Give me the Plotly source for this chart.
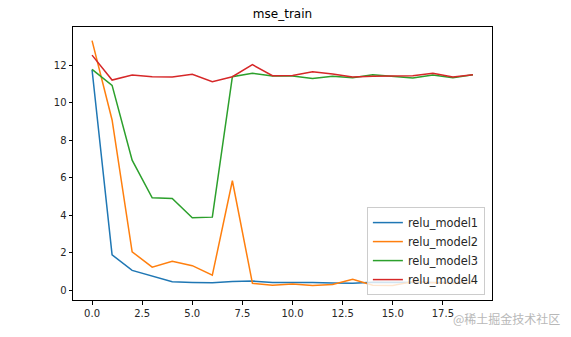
import plotly.graph_objects as go

epochs = list(range(20))
relu_model1 = [11.75, 1.88, 1.05, 0.73, 0.44, 0.41, 0.39, 0.46, 0.48, 0.41, 0.42, 0.40, 0.38, 0.36, 0.42, 0.40, 0.40, 0.40, 0.40, 0.40]
relu_model2 = [13.3, 9.07, 2.04, 1.22, 1.53, 1.30, 0.79, 5.83, 0.36, 0.26, 0.32, 0.24, 0.30, 0.58, 0.26, 0.25, 0.45, 0.40, 0.35, 0.40]
relu_model3 = [11.77, 10.92, 6.93, 4.92, 4.89, 3.86, 3.89, 11.38, 11.56, 11.42, 11.42, 11.29, 11.41, 11.33, 11.48, 11.41, 11.31, 11.47, 11.33, 11.48]
relu_model4 = [12.53, 11.2, 11.47, 11.38, 11.37, 11.51, 11.11, 11.38, 12.02, 11.43, 11.45, 11.64, 11.52, 11.37, 11.4, 11.41, 11.43, 11.56, 11.37, 11.48]

series = [("relu_model1", relu_model1, "#1f77b4"),
          ("relu_model2", relu_model2, "#ff7f0e"),
          ("relu_model3", relu_model3, "#2ca02c"),
          ("relu_model4", relu_model4, "#d62728")]

x_ticks = [0.0, 2.5, 5.0, 7.5, 10.0, 12.5, 15.0, 17.5]
y_ticks = [0, 2, 4, 6, 8, 10, 12]

fig = go.Figure()
for name, vals, color in series:
    fig.add_trace(go.Scatter(x=epochs, y=vals, mode="lines", name=name,
                             line=dict(color=color, width=1.5)))

font = "DejaVu Sans"
fig.update_layout(
    width=571, height=337,
    margin=dict(l=73, r=79, t=27, b=37),
    paper_bgcolor="white", plot_bgcolor="white",
    font=dict(family=font, size=10, color="#262626"),
    title=dict(text="mse_train", x=(73 + 492) / 2 / 571, xanchor="center",
               y=1 - 14 / 337, yanchor="middle",
               font=dict(family=font, size=12, color="black")),
    showlegend=True,
    legend=dict(x=0.983, y=0.018, xanchor="right", yanchor="bottom",
                bgcolor="rgba(255,255,255,0.8)", bordercolor="#cccccc", borderwidth=1,
                font=dict(family=font, size=11.4, color="#262626"),
                tracegroupgap=0, itemwidth=30),
    xaxis=dict(range=[-0.95, 19.95], tickvals=x_ticks,
               ticktext=[f"{v:.1f}" for v in x_ticks],
               showgrid=False, zeroline=False, showline=True, mirror=True,
               linecolor="black", linewidth=1, ticks="outside", ticklen=3.5,
               tickcolor="black"),
    yaxis=dict(range=[-0.53, 14.03], tickvals=y_ticks,
               showgrid=False, zeroline=False, showline=True, mirror=True,
               linecolor="black", linewidth=1, ticks="outside", ticklen=3.5,
               tickcolor="black"),
)

fig.add_annotation(text="@稀土掘金技术社区", x=(562 - 73) / 419, y=(300 - 318) / 273,
                   xref="paper", yref="paper", xanchor="right", yanchor="middle",
                   showarrow=False,
                   font=dict(family="Noto Sans CJK SC", size=12, color="#b8b8b8"))

fig.write_html("out.html")
